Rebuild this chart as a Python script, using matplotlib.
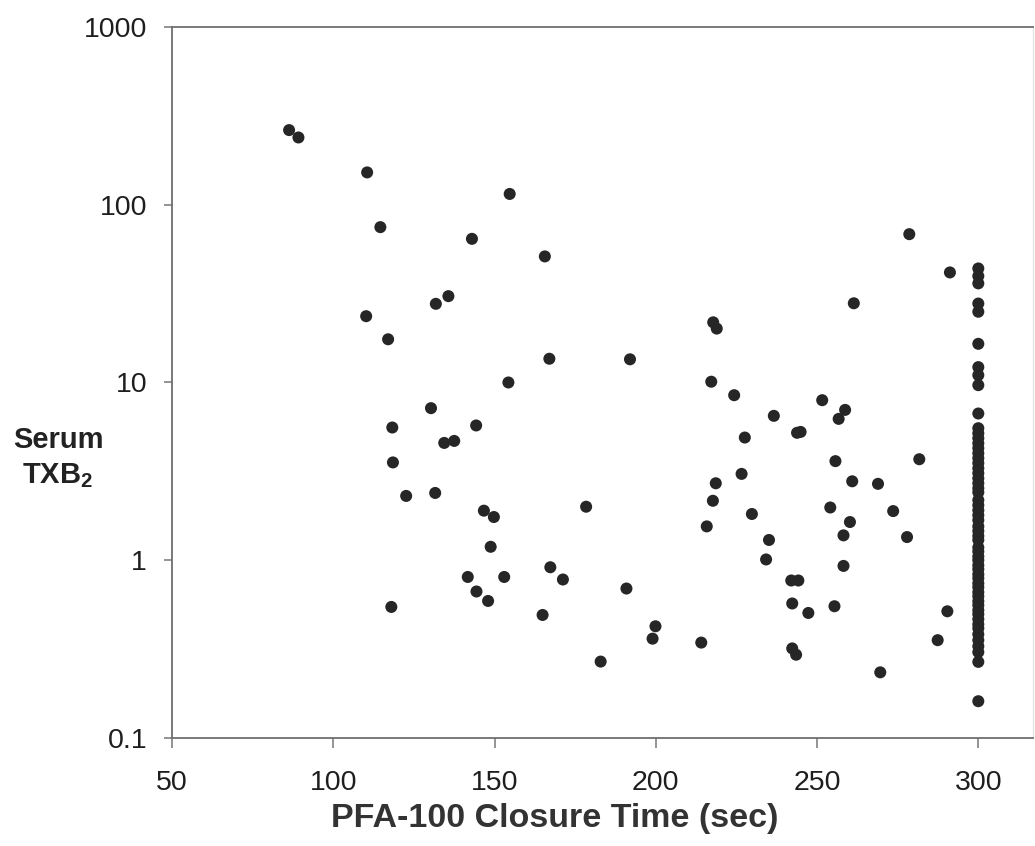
import matplotlib
matplotlib.use("Agg")
import matplotlib.pyplot as plt
from matplotlib.ticker import FixedLocator, NullLocator

plt.rcParams['font.family'] = ['Liberation Sans', 'DejaVu Sans']
plt.rcParams['mathtext.fontset'] = 'custom'
plt.rcParams['mathtext.rm'] = 'Liberation Sans'
plt.rcParams['mathtext.bf'] = 'Liberation Sans:bold'

# closure time (sec) and serum TXB2
closure_time = [
    86.3, 89.2, 110.5, 154.7, 114.6, 143.0, 165.6, 135.7, 131.8, 110.2,
    117.0, 167.0, 154.3, 130.3, 118.3, 144.3, 134.4, 137.5, 118.5, 122.6,
    131.6, 146.7, 149.8, 178.4, 148.8, 141.7, 153.0, 167.3, 171.2, 144.4,
    148.0, 118.0, 164.9, 182.9, 261.4, 217.8, 218.9, 192.0, 217.2, 224.3,
    251.6, 258.7, 256.7, 236.6, 227.6, 243.8, 244.9, 255.7, 226.6, 260.9,
    268.9, 218.6, 217.7, 229.8, 254.1, 273.6, 260.2, 258.2, 277.9, 215.8,
    235.1, 234.2, 258.2, 190.9, 242.0, 244.2, 242.3, 247.3, 255.4, 199.9,
    199.0, 214.1, 242.3, 243.5, 269.6, 278.6, 291.2, 281.7, 290.4, 287.4,
]
serum_txb2 = [
    263, 239, 152, 115, 74.8, 64.3, 51.2, 30.6, 27.7, 23.6,
    17.5, 13.6, 10.0, 7.17, 5.58, 5.73, 4.57, 4.69, 3.55, 2.30,
    2.39, 1.90, 1.75, 2.0, 1.19, 0.805, 0.805, 0.913, 0.779, 0.667,
    0.590, 0.546, 0.492, 0.269, 27.9, 21.8, 20.1, 13.5, 10.1, 8.48,
    7.95, 7.01, 6.24, 6.49, 4.90, 5.21, 5.27, 3.61, 3.06, 2.78,
    2.69, 2.71, 2.16, 1.82, 1.98, 1.89, 1.64, 1.38, 1.35, 1.55,
    1.30, 1.01, 0.929, 0.693, 0.769, 0.769, 0.571, 0.505, 0.551, 0.425,
    0.362, 0.344, 0.319, 0.294, 0.234, 68.3, 41.6, 3.70, 0.516, 0.355,
]

# samples that did not close (capped at 300 sec)
capped_time = 300
capped_txb2 = [
    43.8, 39.7, 36.1, 27.8, 25.0, 16.5, 12.2, 11.0, 9.66, 6.69,
    5.53, 5.18, 4.86, 4.55, 4.27, 4.00, 3.75, 3.52, 3.29, 3.09,
    2.89, 2.71, 2.54, 2.41, 2.18, 2.04, 1.91, 1.79, 1.68, 1.55,
    1.46, 1.37, 1.30, 1.18, 1.12, 1.05, 1.00, 0.937, 0.890, 0.834,
    0.792, 0.742, 0.705, 0.661, 0.627, 0.588, 0.558, 0.523, 0.497, 0.466,
    0.436, 0.414, 0.383, 0.355, 0.328, 0.304, 0.268, 0.161,
]

y_ticks = [0.1, 1, 10, 100, 1000]
y_labels = ['0.1', '1', '10', '100', '1000']
x_ticks = [50, 100, 150, 200, 250, 300]

fig = plt.figure(figsize=(10.35, 8.46), dpi=100)
ax = fig.add_axes([0.1662, 0.1277, 0.832, 0.8404])

dot = '#262626'
ax.scatter(closure_time, serum_txb2, s=75, color=dot, edgecolors='none', zorder=3)
ax.scatter([capped_time] * len(capped_txb2), capped_txb2, s=75, color=dot,
           edgecolors='none', zorder=3)

ax.set_yscale('log')
ax.set_ylim(0.1, 1000)
ax.set_xlim(50, 317)

ax.yaxis.set_major_locator(FixedLocator(y_ticks))
ax.yaxis.set_minor_locator(NullLocator())
ax.set_yticklabels(y_labels)
ax.set_xticks(x_ticks)

for side in ['left', 'bottom', 'top']:
    ax.spines[side].set_color('#6e6e6e')
    ax.spines[side].set_linewidth(1.3)
ax.spines['right'].set_color('#e4e4e4')
ax.spines['right'].set_linewidth(1.0)

ax.tick_params(axis='y', length=6, width=1.1, color='#777777', pad=12,
               labelsize=20.5, labelcolor='#1e1e1e')
ax.tick_params(axis='x', length=7, width=1.1, color='#777777', pad=16,
               labelsize=20.5, labelcolor='#1e1e1e')

ax.set_xlabel('PFA-100 Closure Time (sec)', fontsize=24.5, fontweight='bold',
              color='#333333')
ax.xaxis.set_label_coords(0.444, -0.092)
fig.text(58 / 1035, 1 - 458 / 846, 'Serum\nTXB$_{\\mathbf{2}}$', fontsize=21,
         fontweight='bold', color='#222222', ha='center', va='center',
         linespacing=1.3)

fig.savefig('out.png', dpi=100)
